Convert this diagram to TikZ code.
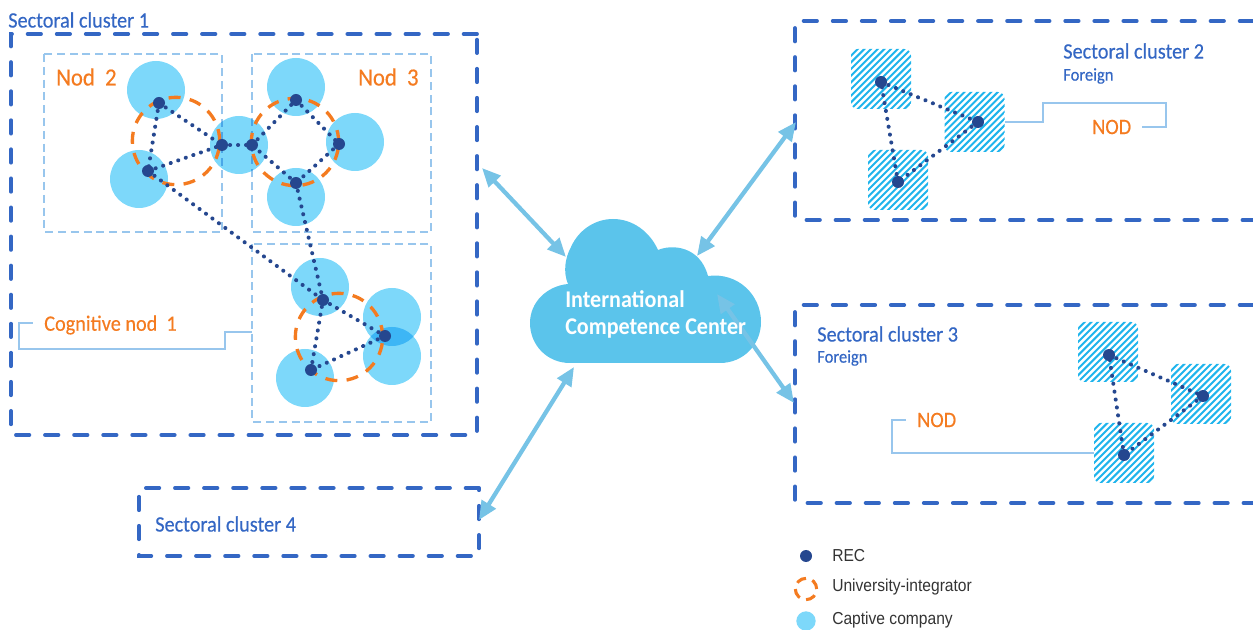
\documentclass[tikz,border=0pt]{standalone}
\usepackage{fontspec}
\setmainfont[FakeStretch=0.92,FakeBold=0.35]{Carlito}
\newfontfamily\cloudfont[FakeStretch=0.92]{Carlito}
\newfontfamily\legendfont[FakeStretch=0.9]{Liberation Sans}
\usetikzlibrary{arrows.meta}
\definecolor{clusterblue}{HTML}{3467C4}
\definecolor{nodblue}{HTML}{98C6ED}
\definecolor{capblue}{HTML}{7DD8FA}
\definecolor{recblue}{HTML}{25478F}
\definecolor{uniorange}{HTML}{F47B20}
\definecolor{cloudblue}{HTML}{5BC4EB}
\definecolor{linkblue}{HTML}{76C3E6}
\definecolor{hatchblue}{HTML}{1FB4EC}
\tikzset{
  clusterline/.style={draw=clusterblue,line width=2.9pt,line cap=round,dash pattern=on 10pt off 11.8pt},
  nodline/.style={draw=nodblue,line width=2.2pt,dash pattern=on 6pt off 3.6pt},
  captive/.style={circle,fill=capblue,inner sep=0pt,minimum size=43.5pt,blend mode=multiply},
  rec/.style={circle,fill=recblue,inner sep=0pt,minimum size=9pt},
  uni/.style={circle,draw=uniorange,line width=2.5pt,dash pattern=on 9pt off 7pt,inner sep=0pt,minimum size=65.5pt},
  foreignbox/.style={rectangle,rounded corners=5pt,inner sep=0pt,minimum size=45pt,path picture={
    \foreach \k in {-9,...,9}
      \draw[draw=hatchblue,line width=1.5pt] ([xshift=\k*5pt-30pt,yshift=-30pt]path picture bounding box.center) -- ([xshift=\k*5pt+30pt,yshift=30pt]path picture bounding box.center);
  }},
  dotlink/.style={draw=recblue,line width=3pt,line cap=round,dash pattern=on 0.1pt off 5.9pt},
  link/.style={draw=linkblue,line width=3.2pt,{Triangle[length=14pt,width=12pt]}-{Triangle[length=14pt,width=12pt]}},
  leadline/.style={draw=nodblue,line width=1.3pt},
  clustertxt/.style={text=clusterblue,font=\fontsize{16.5}{18}\selectfont,anchor=west,inner sep=0pt},
  foreigntxt/.style={text=clusterblue,font=\fontsize{13.5}{15}\selectfont,anchor=west,inner sep=0pt},
  nodtxt/.style={text=uniorange,font=\fontsize{18.5}{20}\selectfont,anchor=west,inner sep=0pt},
  nodsmall/.style={nodtxt,font=\fontsize{16.5}{20}\selectfont},
  cloudtxt/.style={anchor=west,inner sep=0pt,text=white,font=\cloudfont\bfseries\fontsize{18}{20}\selectfont},
  legendtxt/.style={text=black!80,font=\legendfont\fontsize{13}{14}\selectfont,anchor=west,inner sep=0pt},
}
\begin{document}
\begin{tikzpicture}[x=0.75pt,y=0.75pt,yscale=-1,xscale=1]
\useasboundingbox (0,0) rectangle (1253,630);

% captive companies
\node[captive] (capa) at (156,90) {};
\node[captive] (capb) at (139,179) {};
\node[captive] (capc) at (239,145) {};
\node[captive] (capd) at (296,87) {};
\node[captive] (cape) at (355,142) {};
\node[captive] (capf) at (296,197) {};
\node[captive] (capg) at (320,287) {};
\node[captive] (caph) at (392,317) {};
\node[captive] (capi) at (392,356) {};
\node[captive] (capj) at (305,378) {};

% sectoral clusters
\draw[clusterline] (477,34) -- (11,34) -- (11,435) -- (477,435) -- cycle;
\draw[clusterline] (1253,21) -- (795,21) -- (795,220) -- (1253,220);
\draw[clusterline] (1253,305) -- (795,305) -- (795,503) -- (1253,503);
\draw[clusterline] (479,488) -- (139,488) -- (139,556) -- (479,556) -- cycle;

% nods
\draw[nodline,blend mode=multiply] (44,54) rectangle (222,232);
\draw[nodline,blend mode=multiply] (252,54) rectangle (431,232);
\draw[nodline] (252,244) rectangle (431,422);
\node[uni] (unia) at (176,141) {};
\node[uni] (unib) at (295,142) {};
\node[uni] (unic) at (339,337) {};

% foreign companies
\node[foreignbox] (hata) at (881,79) {};
\node[foreignbox] (hatb) at (974.5,122) {};
\node[foreignbox] (hatc) at (898,180) {};
\node[foreignbox] (hatd) at (1108,352) {};
\node[foreignbox] (hate) at (1201,394) {};
\node[foreignbox] (hatf) at (1124,453) {};

% REC
\foreach \nm/\px/\py in {reca/159/103,recb/148/171,recc/222/145,recd/252/145,rece/296/100,recf/339/144,recg/296/183,rech/323/300,reci/385/336,recj/311/370,reck/881/82,recl/978/122,recm/898/182,recn/1109/355,reco/1203/396,recp/1124/455}
  \node[rec] (\nm) at (\px,\py) {};

% dotted links
\foreach \from/\to in {reca/recb,reca/recc,recb/recc,recc/recd,recd/rece,rece/recf,recf/recg,recg/recd,recb/rech,recg/rech,rech/reci,reci/recj,recj/rech,reck/recl,recl/recm,recm/reck,recn/reco,reco/recp,recp/recn}
  \draw[dotlink] (\from.center) -- (\to.center);

% cloud
\draw[fill=cloudblue,draw=none] (570,363) .. controls (547,363) and (530,345) .. (530,323) .. controls (530,302) and (547,286) .. (568,284) .. controls (563,272) and (565,258) .. (571,247) .. controls (579,229) and (596,219) .. (613,219) .. controls (633,219) and (650,232) .. (658,250) .. controls (672,244) and (700,246) .. (708,276) .. controls (738,272) and (761,295) .. (761,322) .. controls (761,345) and (743,363) .. (720,363) -- cycle;

% links to the center
\coordinate (linkaa) at (482,168);
\coordinate (linkab) at (566,257);
\coordinate (linkba) at (796,122);
\coordinate (linkbb) at (697,256);
\coordinate (linkca) at (717,294);
\coordinate (linkcb) at (794,403);
\coordinate (linkda) at (574,367);
\coordinate (linkdb) at (479,520);
\draw[link] (linkaa) -- (linkab);
\draw[link] (linkba) -- (linkbb);
\draw[link] (linkca) -- (linkcb);
\draw[link] (linkda) -- (linkdb);

% labels
\node[cloudtxt] (cloudtxta) at (565,299) {International};
\node[cloudtxt] (cloudtxtb) at (565,329) {Competence Center};
\node[clustertxt] (cluone) at (8,20) {Sectoral cluster 1};
\node[clustertxt] (clutwo) at (1063,51) {Sectoral cluster 2};
\node[foreigntxt] (fortwo) at (1063,76) {Foreign};
\node[clustertxt] (cluthree) at (817,334) {Sectoral cluster 3};
\node[foreigntxt] (forthree) at (817,358) {Foreign};
\node[clustertxt] (clufour) at (155,524) {Sectoral cluster 4};
\node[nodtxt] (nodtwo) at (56,77) {Nod\ \ 2};
\node[nodtxt] (nodthree) at (358,77) {Nod\ \ 3};
\node[nodsmall] (nodone) at (44,325) {Cognitive nod\ \ 1};
\node[nodsmall] (nodf) at (1092,127) {NOD};
\node[nodsmall] (nodg) at (917,420) {NOD};

% leaders
\coordinate (cogbox) at (252,332);
\coordinate (cogend) at (33,323);
\draw[leadline] (hatb.east) -- (1043,122) -- (1043,103) -- (1166,103) -- (1166,127) -- ([xshift=8pt]nodf.east);
\draw[leadline] (hatf.west) -- (892,453) -- (892,420) -- ([xshift=-8pt]nodg.west);
\draw[leadline] (cogbox) -- (225,332) -- (225,349) -- (19,349) -- (19,323) -- (cogend);

% legend
\node[rec] (legrec) at (806,556) {};
\node[circle,draw=uniorange,line width=2.3pt,dash pattern=on 7.5pt off 5pt,inner sep=0pt,minimum size=16pt] (leguni) at (806,589) {};
\node[captive,minimum size=14.5pt] (legcap) at (806,621) {};
\node[legendtxt] (txtrec) at (832,556) {REC};
\node[legendtxt] (txtuni) at (832,587) {University-integrator};
\node[legendtxt] (txtcap) at (832,620) {Captive company};
\end{tikzpicture}
\end{document}
